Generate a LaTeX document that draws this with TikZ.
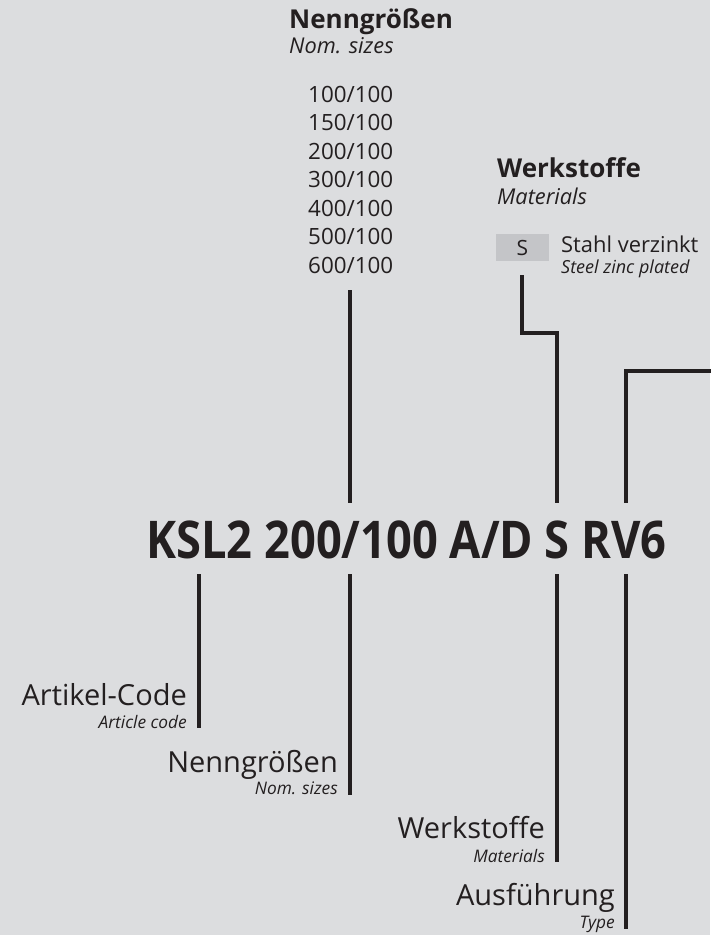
\documentclass[tikz,border=0pt]{standalone}
\usepackage{fontspec}
\setmainfont{Open Sans}
\newfontfamily\codefont[FakeStretch=0.87]{Open Sans}
\definecolor{bg}{RGB}{220,221,223}
\definecolor{ink}{RGB}{35,31,32}
\definecolor{boxg}{RGB}{196,197,200}
\tikzset{
  lbl/.style={inner sep=0pt, text=ink},
  conn/.style={draw=ink, line width=4.6pt},
  head/.style={lbl, font=\fontsize{26}{30}\selectfont\bfseries},
  sub/.style={lbl, font=\fontsize{21.8}{26}\selectfont\itshape},
  reg/.style={lbl, font=\fontsize{29}{34}\selectfont},
  subs/.style={lbl, font=\fontsize{17.3}{20}\selectfont\itshape},
  num/.style={lbl, font=\fontsize{22.4}{28}\selectfont},
}
\begin{document}
\begin{tikzpicture}[x=1pt,y=-1pt]
\fill[bg] (0,0) rectangle (710,935);
\useasboundingbox (0,0) rectangle (710,935);

% top: nominal sizes
\node[head, anchor=base west] (nh) at (289,28) {Nenngrößen};
\node[sub, anchor=base west] (nhs) at (289,53) {Nom. sizes};
\foreach \v [count=\i from 0] in {100,150,200,300,400,500,600}
  \node[num, anchor=base west] (n\i) at (308,102+28.5*\i) {\v/100};

% top: materials
\node[head, anchor=base west] (wh) at (497,177) {Werkstoffe};
\node[sub, anchor=base west] (whs) at (497,204) {Materials};
\node[lbl, fill=boxg, minimum width=53pt, minimum height=27pt, font=\fontsize{21}{24}\selectfont] (sbox) at (522.5,247.5) {S};
\node[lbl, anchor=base west, font=\fontsize{21.9}{26}\selectfont] (st) at (561,252) {Stahl verzinkt};
\node[lbl, anchor=base west, font=\fontsize{18}{21}\selectfont\itshape] (sts) at (561,273) {Steel zinc plated};

% main code
\node[lbl, anchor=base, font=\fontsize{52}{60}\codefont\bfseries] (code) at (406.5,558) {KSL2 200/100 A/D S RV6};

% bottom labels
\node[reg, anchor=base east] (ac) at (187,705) {Artikel-Code};
\node[subs, anchor=base east] (acs) at (187,728) {Article code};
\node[reg, anchor=base east] (ng) at (338,772) {Nenngrößen};
\node[subs, anchor=base east] (ngs) at (338,794) {Nom. sizes};
\node[reg, anchor=base east] (ws) at (545,838) {Werkstoffe};
\node[subs, anchor=base east] (wss) at (545,862) {Materials};
\node[reg, anchor=base east] (af) at (615,905) {Ausführung};
\node[subs, anchor=base east] (afs) at (615,928) {Type};

% connector end points
\coordinate (t1) at (350,290);
\coordinate (t1e) at (350,503);
\coordinate (t2) at (522,275);
\coordinate (t2e) at (557,503);
\coordinate (t3) at (712,371);
\coordinate (t3e) at (626,503);
\coordinate (b1) at (199,574);  \coordinate (b1e) at (199,728);
\coordinate (b2) at (350,574);  \coordinate (b2e) at (350,795);
\coordinate (b3) at (557,574);  \coordinate (b3e) at (557,862);
\coordinate (b4) at (626,574);  \coordinate (b4e) at (626,929);

\draw[conn] (t1) -- (t1e);
\draw[conn] (t2) |- (540,333) -| (t2e);
\draw[conn] (t3) -| (t3e);
\draw[conn] (b1) -- (b1e);
\draw[conn] (b2) -- (b2e);
\draw[conn] (b3) -- (b3e);
\draw[conn] (b4) -- (b4e);
\end{tikzpicture}
\end{document}
